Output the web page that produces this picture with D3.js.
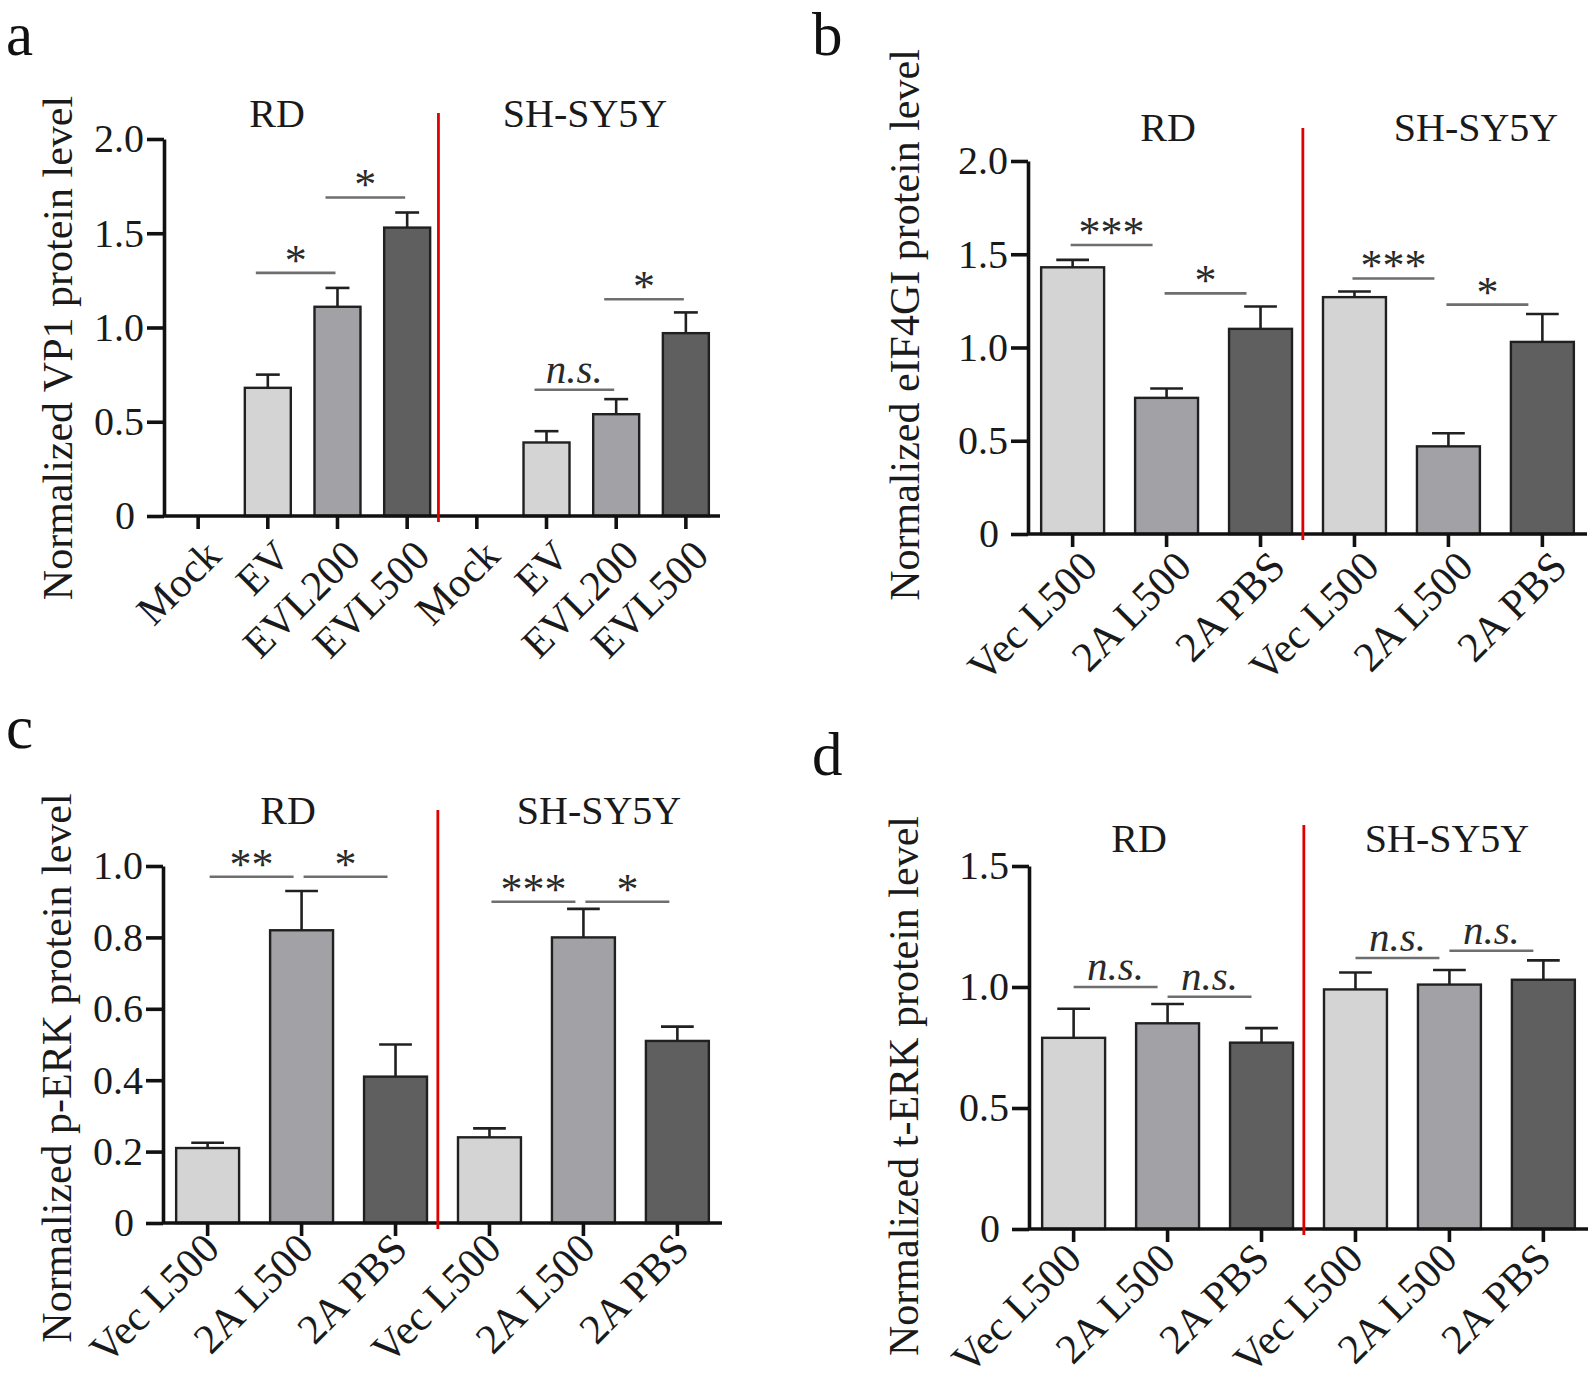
<!DOCTYPE html>
<html><head><meta charset="utf-8">
<script src="https://cdn.jsdelivr.net/npm/d3@7"></script>
<style>body{margin:0;background:#fff}svg{display:block}text{font-family:"Liberation Serif","Times New Roman",serif}</style>
</head><body>
<svg id="c" width="1592" height="1390"></svg>
<script>
// ---------- data ----------
const catsA = ["Mock","EV","EVL200","EVL500","Mock","EV","EVL200","EVL500"];
const shadeA = ["light","light","mid","dark","light","light","mid","dark"];
const valsA = [0, 0.68, 1.11, 1.53, 0, 0.39, 0.54, 0.97];
const errA  = [0, 0.07, 0.10, 0.08, 0, 0.06, 0.08, 0.11];

const catsBCD = ["Vec L500","2A L500","2A PBS","Vec L500","2A L500","2A PBS"];
const shadeBCD = ["light","mid","dark","light","mid","dark"];
const valsB = [1.43, 0.73, 1.10, 1.27, 0.47, 1.03];
const errB  = [0.04, 0.05, 0.12, 0.03, 0.07, 0.15];
const valsC = [0.21, 0.82, 0.41, 0.24, 0.80, 0.51];
const errC  = [0.015, 0.11, 0.09, 0.025, 0.08, 0.04];
const valsD = [0.79, 0.85, 0.77, 0.99, 1.01, 1.03];
const errD  = [0.12, 0.08, 0.06, 0.07, 0.06, 0.08];

const sigA = [{from:1,to:2,y:1.29,label:"*"},{from:2,to:3,y:1.69,label:"*"},{from:5,to:6,y:0.67,label:"n.s."},{from:6,to:7,y:1.15,label:"*"}];
const sigB = [{from:0,to:1,y:1.55,label:"***"},{from:1,to:2,y:1.29,label:"*"},{from:3,to:4,y:1.37,label:"***"},{from:4,to:5,y:1.23,label:"*"}];
const sigC = [{from:0,to:1,y:0.97,label:"**"},{from:1,to:2,y:0.97,label:"*"},{from:3,to:4,y:0.90,label:"***"},{from:4,to:5,y:0.90,label:"*"}];
const sigD = [{from:0,to:1,y:1.00,label:"n.s."},{from:1,to:2,y:0.96,label:"n.s."},{from:3,to:4,y:1.12,label:"n.s."},{from:4,to:5,y:1.15,label:"n.s."}];

const ticksA = [0, 0.5, 1.0, 1.5, 2.0];
const ticksB = [0, 0.5, 1.0, 1.5, 2.0];
const ticksC = [0, 0.2, 0.4, 0.6, 0.8, 1.0];
const ticksD = [0, 0.5, 1.0, 1.5];

const groupLabels = ["RD", "SH-SY5Y"];
const titles = {
  a: "Normalized VP1 protein level",
  b: "Normalized eIF4GI protein level",
  c: "Normalized p-ERK protein level",
  d: "Normalized t-ERK protein level"
};

// ---------- style ----------
const colors = {light:"#d4d4d4", mid:"#a1a1a6", dark:"#5f5f5f"};
const FS = 40;
const svg = d3.select("#c");
const fmt = v => v === 0 ? "0" : d3.format(".1f")(v);

function panel(cfg) {
  const g = svg.append("g");
  const n = cfg.cats.length;
  const x = d3.scaleBand().domain(d3.range(n)).range(cfg.xr).paddingInner(cfg.pi).paddingOuter(cfg.po);
  const y = d3.scaleLinear().domain([0, d3.max(cfg.ticks)]).range([cfg.y0, cfg.yTop]);
  const bw = x.bandwidth(), step = x.step();
  const cx = i => x(i) + bw / 2;

  // bars
  const idx = d3.range(n).filter(i => cfg.vals[i] > 0);
  g.selectAll("rect.bar").data(idx).join("rect")
    .attr("x", i => x(i)).attr("y", i => y(cfg.vals[i]))
    .attr("width", bw).attr("height", i => y(0) - y(cfg.vals[i]))
    .attr("fill", i => colors[cfg.shade[i]])
    .attr("stroke", "#202020").attr("stroke-width", 2.4);
  // error bars
  const eg = g.append("g").attr("stroke", "#202020").attr("stroke-width", 2.6);
  idx.filter(i => cfg.err[i] > 0).forEach(i => {
    eg.append("line").attr("x1", cx(i)).attr("x2", cx(i)).attr("y1", y(cfg.vals[i])).attr("y2", y(cfg.vals[i] + cfg.err[i]));
    eg.append("line").attr("x1", cx(i) - bw * 0.26).attr("x2", cx(i) + bw * 0.26)
      .attr("y1", y(cfg.vals[i] + cfg.err[i])).attr("y2", y(cfg.vals[i] + cfg.err[i]));
  });

  // axes
  const ya = g.append("g").attr("transform", `translate(${cfg.xr[0]},0)`)
    .call(d3.axisLeft(y).tickValues(cfg.ticks).tickFormat(fmt).tickSize(17).tickSizeOuter(0).tickPadding(3));
  ya.selectAll("path,line").attr("stroke", "#111").attr("stroke-width", 3.6);
  ya.selectAll("text").attr("font-size", FS).attr("fill", "#1a1a1a").attr("font-family", "Liberation Serif")
    .attr("dx", d => d === 0 ? -9 : 0);

  const xa = g.append("g").attr("transform", `translate(0,${cfg.y0})`)
    .call(d3.axisBottom(x).tickSize(13).tickSizeOuter(0).tickFormat(""));
  xa.selectAll("path,line").attr("stroke", "#111").attr("stroke-width", 3.6);
  xa.select("path").attr("d", `M${cfg.xr[0] - 1},0H${cfg.xr[1]}`);

  g.selectAll("text.xl").data(d3.range(n)).join("text")
    .attr("transform", i => `translate(${cx(i) + cfg.lx},${cfg.y0 + cfg.ly}) rotate(-45)`)
    .attr("text-anchor", "end").attr("font-size", 42).attr("fill", "#1a1a1a")
    .text(i => cfg.cats[i]);

  // red divider
  const k = cfg.split;
  const rx = x(k - 1) + bw + (step - bw) * 0.35;
  g.append("line").attr("x1", rx).attr("x2", rx).attr("y1", cfg.redTop).attr("y2", cfg.y0 + 6)
    .attr("stroke", "#e00000").attr("stroke-width", 2.8);

  // significance
  cfg.sig.forEach(s => {
    const x1 = cx(s.from) + cfg.so, x2 = cx(s.to) + cfg.eo, yy = y(s.y);
    g.append("line").attr("x1", x1).attr("x2", x2).attr("y1", yy).attr("y2", yy)
      .attr("stroke", "#6e6e6e").attr("stroke-width", 2.6);
    const ns = s.label === "n.s.";
    g.append("text").attr("x", (x1 + x2) / 2).attr("y", ns ? yy - 7 : yy + 2)
      .attr("text-anchor", "middle").attr("font-size", ns ? 41 : 44)
      .attr("font-style", ns ? "italic" : "normal").attr("fill", "#2a2a2a")
      .text(s.label);
  });

  // group labels
  groupLabels.forEach((t, j) => {
    g.append("text").attr("x", cfg.gx[j]).attr("y", cfg.gy).attr("text-anchor", "middle")
      .attr("font-size", FS).attr("fill", "#1a1a1a").text(t);
  });

  // y title
  g.append("text").attr("transform", `translate(${cfg.tx},${cfg.ty}) rotate(-90)`)
    .attr("text-anchor", "middle").attr("font-size", 42).attr("fill", "#1a1a1a").text(cfg.title);

  // panel letter
  g.append("text").attr("x", cfg.px).attr("y", cfg.py).attr("font-size", 61).attr("fill", "#111").text(cfg.letter);
}

panel({letter:"a", px:6, py:55, cats:catsA, shade:shadeA, vals:valsA, err:errA, sig:sigA, ticks:ticksA,
  xr:[164, 720], pi:0.34, po:0.16, y0:516, yTop:139, split:4, redTop:113, lx:25, ly:42, so:-12, eo:-2,
  gx:[277, 585], gy:127, tx:72, ty:348, title:titles.a});
panel({letter:"b", px:812, py:55, cats:catsBCD, shade:shadeBCD, vals:valsB, err:errB, sig:sigB, ticks:ticksB,
  xr:[1028, 1587], pi:0.33, po:0.14, y0:534, yTop:161, split:3, redTop:128, lx:27, ly:35, so:-2, eo:-14,
  gx:[1168, 1476], gy:141, tx:919, ty:325, title:titles.b});
panel({letter:"c", px:6, py:748, cats:catsBCD, shade:shadeBCD, vals:valsC, err:errC, sig:sigC, ticks:ticksC,
  xr:[163, 722], pi:0.33, po:0.14, y0:1223, yTop:866, split:3, redTop:810, lx:14, ly:28, so:2, eo:-8,
  gx:[288, 599], gy:824, tx:71, ty:1068, title:titles.c});
panel({letter:"d", px:812, py:775, cats:catsBCD, shade:shadeBCD, vals:valsD, err:errD, sig:sigD, ticks:ticksD,
  xr:[1029, 1588], pi:0.33, po:0.14, y0:1229, yTop:866, split:3, redTop:825, lx:10, ly:32, so:0, eo:-10,
  gx:[1139, 1447], gy:852, tx:918, ty:1086, title:titles.d});
</script>
</body></html>
